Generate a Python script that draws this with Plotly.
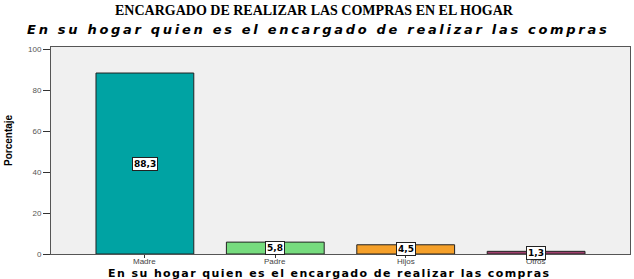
import plotly.graph_objects as go

categories = ["Madre", "Padre", "Hijos", "Otros"]
values = [88.3, 5.8, 4.5, 1.3]
value_labels = ["88,3", "5,8", "4,5", "1,3"]
colors = ["#00A3A3", "#76DB7E", "#F5A02A", "#A0406E"]
y_ticks = [0, 20, 40, 60, 80, 100]

fig = go.Figure()
fig.add_trace(go.Bar(
    x=categories, y=values, width=0.75,
    marker=dict(color=colors, line=dict(color="#222222", width=1)),
    hoverinfo="skip",
))

for c, v, t in zip(categories, values, value_labels):
    fig.add_annotation(x=c, y=v / 2, xref="x", yref="y", text="<b>%s</b>" % t,
                       showarrow=False, bgcolor="white", bordercolor="#222222",
                       borderwidth=1, borderpad=1,
                       font=dict(family="DejaVu Sans", size=9, color="black"))

fig.update_layout(
    width=634, height=279,
    margin=dict(l=51, r=4, t=47, b=25),
    paper_bgcolor="white", plot_bgcolor="#F0F0F0",
    showlegend=False,
    font=dict(family="Liberation Sans", size=8, color="#444444"),
    xaxis=dict(range=[-0.72, 3.72], showline=True, linecolor="#555555", mirror=True,
               ticks="outside", ticklen=3, tickcolor="#333333",
               showticklabels=False, showgrid=False),
    yaxis=dict(range=[0, 101], tickvals=y_ticks, showline=True, linecolor="#555555",
               mirror=True, ticks="outside", ticklen=7, tickcolor="#333333",
               tickfont=dict(size=8, color="#555555"), showgrid=False, zeroline=False),
)

X0, X1, Y0, Y1 = 51, 630, 254, 47

def py(ypx):
    return (Y0 - ypx) / (Y0 - Y1)

for c in categories:
    fig.add_annotation(x=c, y=py(261.5), xref="x", yref="paper", text=c, showarrow=False,
                       xanchor="center", yanchor="middle",
                       font=dict(family="Liberation Sans", size=8, color="#444444"))

def ann_px(text, xpx, ypx, font, angle=0):
    fig.add_annotation(x=(xpx - X0) / (X1 - X0), y=py(ypx),
                       xref="paper", yref="paper", text=text, showarrow=False,
                       xanchor="center", yanchor="middle", font=font, textangle=angle)

ann_px("<b>ENCARGADO DE REALIZAR LAS COMPRAS EN EL HOGAR</b>", 314, 10,
       dict(family="Liberation Serif", size=14, color="black"))
ann_px("<b><i>En su hogar quien es el encargado de realizar las compras</i></b>", 318, 29,
       dict(family="DejaVu Sans", size=13, color="black"))
ann_px("<b>En su hogar quien es el encargado de realizar las compras</b>", 329, 273,
       dict(family="DejaVu Sans", size=11, color="black"))
ann_px("<b>Porcentaje</b>", 8, 140,
       dict(family="Liberation Sans Narrow, Liberation Sans", size=10, color="black"), angle=-90)

post = """
var tx = document.querySelectorAll('text.annotation-text');
tx.forEach(function(t){
  var s = t.textContent;
  if (s.indexOf('En su hogar') === 0) {
    var fs = parseFloat(t.style.fontSize || '0');
    t.style.letterSpacing = (fs >= 12.5 ? '2.7px' : '1.4px');
  }
});
"""
fig.write_html("out.html", post_script=post)
